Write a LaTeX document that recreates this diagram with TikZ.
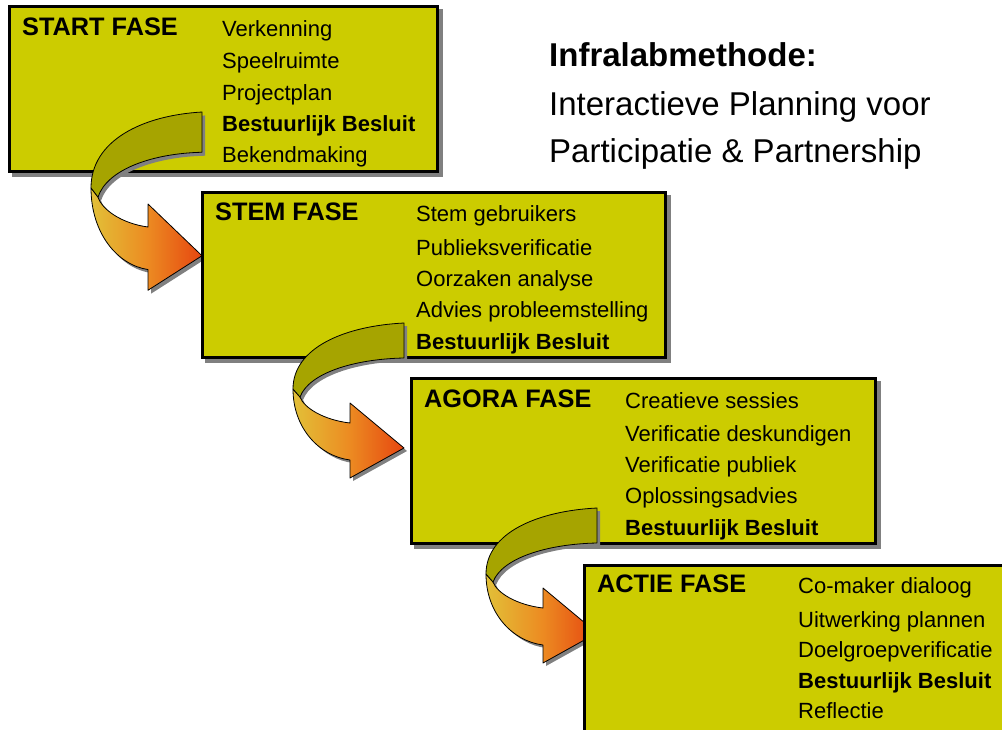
\documentclass[tikz,border=0pt]{standalone}
\usepackage{fontspec}
\setmainfont{Liberation Sans}
\definecolor{boxfill}{RGB}{204,204,0}
\definecolor{bandtop}{RGB}{166,164,0}
\definecolor{bandlight}{RGB}{226,192,56}
\definecolor{bandmid}{RGB}{236,140,34}
\definecolor{bandtip}{RGB}{230,70,16}
\definecolor{shadowgray}{RGB}{128,128,128}
% silhouette of the twisted ribbon arrow (origin = upper right corner of the band)
\newcommand\ribbonoutline{(0,0) .. controls (-60,3) and (-111,25) .. (-111,66)
  .. controls (-111,105) and (-85,133) .. (-54,137) -- (-54,155) -- (0,125)
  -- (-54,80) -- (-54,100) .. controls (-80,97) and (-100,85) .. (-104,74)
  .. controls (-95,50) and (-50,36) .. (0,35) -- cycle}
\tikzset{
  phasebox/.style={fill=boxfill, draw=black, line width=3pt},
  boxshadow/.style={fill=shadowgray},
  item/.style={anchor=base west, inner sep=0pt, font=\fontsize{22}{26}\selectfont},
  itembold/.style={item, font=\fontsize{22}{26}\selectfont\bfseries},
  head/.style={anchor=base west, inner sep=0pt, font=\fontsize{25.3}{29}\selectfont\bfseries},
  titletext/.style={anchor=base west, inner sep=0pt, font=\fontsize{33}{38}\selectfont},
  ribbon/.pic={
    \fill[shadowgray, shift={(3,3)}] \ribbonoutline;
    \shadedraw[left color=bandlight, right color=bandtip, middle color=bandmid,
      draw=black, line width=0.8pt, line join=round]
      (-111,66) .. controls (-111,105) and (-85,133) .. (-54,137) -- (-54,155)
      -- (0,125) -- (-54,80) -- (-54,100)
      .. controls (-80,97) and (-100,85) .. (-104,74) -- cycle;
    \filldraw[fill=bandtop, draw=black, line width=0.8pt, line join=round]
      (0,0) .. controls (-60,3) and (-111,25) .. (-111,66) -- (-104,74)
      .. controls (-95,50) and (-50,36) .. (0,35) -- cycle;
  }
}
\begin{document}
\begin{tikzpicture}[x=1pt, y=-1pt]
\clip (0,0) rectangle (1002,729);

% START phase
\fill[boxshadow] (12,9) rectangle (443,177);
\draw[phasebox] (9.5,6.5) rectangle (437.5,171.5);
\node[head] (h1) at (22,35) {START FASE};
\node[item] (a1) at (222,36) {Verkenning};
\node[item] (a2) at (222,68) {Speelruimte};
\node[item] (a3) at (222,100) {Projectplan};
\node[itembold] (a4) at (222,131) {Bestuurlijk Besluit};
\node[item] (a5) at (222,162) {Bekendmaking};

% title
\node[titletext, font=\fontsize{33}{38}\selectfont\bfseries] (t1) at (549,66) {Infralabmethode:};
\node[titletext] (t2) at (549,115) {Interactieve Planning voor};
\node[titletext] (t3) at (549,162) {Participatie \& Partnership};

\pic[yscale=1.15] (r1) at (202,112) {ribbon};

% STEM phase
\fill[boxshadow] (205,195) rectangle (671,363);
\draw[phasebox] (202.5,192.5) rectangle (665.5,357.5);
\node[head] (h2) at (215,220) {STEM FASE};
\node[item] (b1) at (416,221) {Stem gebruikers};
\node[item] (b2) at (416,255) {Publieksverificatie};
\node[item] (b3) at (416,286) {Oorzaken analyse};
\node[item] (b4) at (416,317) {Advies probleemstelling};
\node[itembold] (b5) at (416,349) {Bestuurlijk Besluit};

\pic (r2) at (404,323) {ribbon};

% AGORA phase
\fill[boxshadow] (414,381) rectangle (881,549);
\draw[phasebox] (411.5,378.5) rectangle (875.5,543.5);
\node[head] (h3) at (424,407) {AGORA FASE};
\node[item] (c1) at (625,408) {Creatieve sessies};
\node[item] (c2) at (625,441) {Verificatie deskundigen};
\node[item] (c3) at (625,472) {Verificatie publiek};
\node[item] (c4) at (625,503) {Oplossingsadvies};
\node[itembold] (c5) at (625,535) {Bestuurlijk Besluit};

\pic (r3) at (597,508) {ribbon};

% ACTIE phase
\fill[boxshadow] (587,568) rectangle (1020,750);
\draw[phasebox] (584.5,565.5) rectangle (1012,745);
\node[head] (h4) at (597,592) {ACTIE FASE};
\node[item] (d1) at (798,593) {Co-maker dialoog};
\node[item] (d2) at (798,627) {Uitwerking plannen};
\node[item] (d3) at (798,657) {Doelgroepverificatie};
\node[itembold] (d4) at (798,688) {Bestuurlijk Besluit};
\node[item] (d5) at (798,718) {Reflectie};
\end{tikzpicture}
\end{document}
